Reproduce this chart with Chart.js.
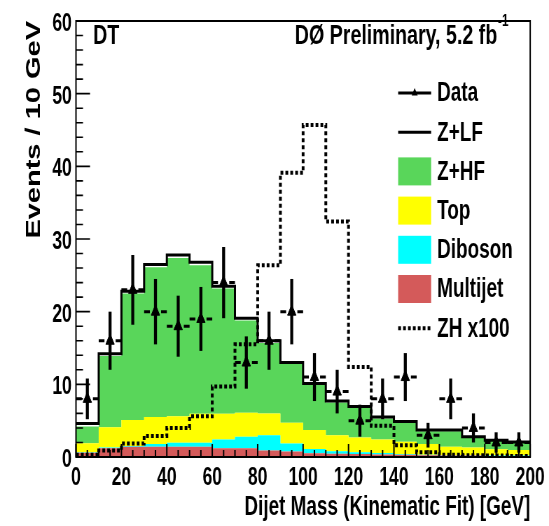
<!DOCTYPE html>
<html>
<head>
<meta charset="utf-8">
<script src="https://cdn.jsdelivr.net/npm/chart.js@4.4.1/dist/chart.umd.min.js"></script>
<style>
  html, body { margin: 0; padding: 0; overflow: hidden; background: #fff; }
  #frame { width: 549px; height: 526px; overflow: hidden; }
  /* the reference is squeezed sideways, so draw wider and compress */
  #wrap { position: relative; width: 784px; height: 526px; transform: scaleX(0.70026); transform-origin: 0 0; }
</style>
</head>
<body>
<div id="frame"><div id="wrap"><canvas id="c"></canvas></div></div>
<script>
// Bin lower edges, 10 GeV wide
const binLow = [0, 10, 20, 30, 40, 50, 60, 70, 80, 90, 100, 110, 120, 130, 140, 150, 160, 170, 180, 190];
const binWidth = 10;

// Background components (events per bin), bottom of the stack first
const multijet = [0.6, 1.2, 1.4, 1.4, 1.4, 1.4, 1.2, 1.2, 0.9, 0.75, 0.5, 0.45, 0.4, 0.35, 0.3, 0.25, 0.2, 0.2, 0.15, 0.15];
const diboson  = [0.05, 0.1, 0.1, 0.4, 0.55, 0.55, 1.2, 1.6, 2.1, 1.1, 0.6, 0.35, 0.25, 0.2, 0.1, 0.05, 0.05, 0.05, 0.05, 0.05];
const topPair  = [1.25, 2.8, 3.6, 3.7, 3.65, 4.0, 3.55, 3.3, 3.0, 2.85, 2.6, 2.2, 2.05, 1.85, 1.7, 1.5, 1.15, 1.05, 0.85, 0.75];
const zhf      = [2.3, 9.8, 17.4, 20.6, 21.8, 20.45, 17.25, 12.7, 9.7, 8.1, 6.2, 4.5, 4.05, 2.9, 2.6, 1.75, 2.15, 1.4, 1.15, 1.0];
const zlf      = [0.4, 0.3, 0.3, 0.4, 0.4, 0.4, 0.3, 0.3, 0.3, 0.2, 0.2, 0.2, 0.2, 0.2, 0.2, 0.15, 0.15, 0.1, 0.1, 0.1];

// Signal x100
const zh100 = [0.3, 0.9, 1.85, 2.9, 4.0, 5.6, 9.7, 15.5, 26.4, 39.1, 45.7, 32.4, 12.4, 4.3, 1.6, 0.65, 0.3, 0.25, 0.2, 0.15];

// Data and its errors
const dataCounts = [8, 16, 23, 20, 18, 19, 24, 13, 16, 20, 11, 9, 5, 8, 11, 3, 8, 4, 2, 2];
const dataErr    = [2.8, 4.0, 4.8, 4.5, 4.2, 4.4, 4.9, 3.6, 4.0, 4.5, 3.3, 3.0, 2.2, 2.8, 3.3, 1.7, 2.8, 2.0, 1.4, 1.4];

const legendLabels = ['Data', 'Z+LF', 'Z+HF', 'Top', 'Diboson', 'Multijet', 'ZH x100'];

const colors = {
  multijet: '#d45a5a',
  diboson: '#00ffff',
  top: '#ffff00',
  zhf: '#59d65a',
  zlf: '#ffffff'
};

const fontFamily = "'Liberation Sans', Arial, Helvetica, sans-serif";

// histogram edges for a stepped line
function steps(vals) {
  const pts = binLow.map((x, i) => ({ x: x, y: vals[i] }));
  pts.push({ x: binLow[binLow.length - 1] + binWidth, y: vals[vals.length - 1] });
  return pts;
}

function histSet(label, vals, color, order) {
  return {
    label: label,
    data: steps(vals),
    stepped: 'before',
    fill: order === 1 ? 'origin' : '-1',
    backgroundColor: color,
    borderColor: 'rgba(0,0,0,0)',
    borderWidth: 1,
    pointRadius: 0,
    stack: 'bkg',
    order: order
  };
}

const zlfSet = histSet('Z+LF', zlf, colors.zlf, 5);
zlfSet.borderColor = '#000';
zlfSet.borderWidth = 3;

const decor = {
  id: 'decor',
  afterDatasetsDraw(chart) {
    const { ctx, scales: { x, y } } = chart;
    ctx.save();
    ctx.strokeStyle = '#000';
    ctx.lineCap = 'butt';
    binLow.forEach((lo, i) => {
      const cx = x.getPixelForValue(lo + binWidth / 2);
      const cy = y.getPixelForValue(dataCounts[i]);
      ctx.lineWidth = 4.3;
      ctx.beginPath();
      ctx.moveTo(cx, y.getPixelForValue(dataCounts[i] + dataErr[i]));
      ctx.lineTo(cx, y.getPixelForValue(Math.max(0, dataCounts[i] - dataErr[i])));
      ctx.stroke();
      ctx.lineWidth = 3;
      const gap = 8;
      ctx.beginPath();
      ctx.moveTo(x.getPixelForValue(lo), cy);
      ctx.lineTo(cx - gap, cy);
      ctx.moveTo(cx + gap, cy);
      ctx.lineTo(x.getPixelForValue(lo + binWidth), cy);
      ctx.stroke();
    });
    ctx.restore();
  },
  afterDraw(chart) {
    const { ctx, chartArea: a, scales: { x, y } } = chart;
    ctx.save();
    ctx.strokeStyle = '#000';
    // inner tick marks
    ctx.lineWidth = 1.6;
    ctx.beginPath();
    for (let v = 0; v <= 60; v += 2) {
      const py = y.getPixelForValue(v);
      ctx.moveTo(a.left, py);
      ctx.lineTo(a.left + (v % 10 === 0 ? 20 : 10), py);
    }
    ctx.stroke();
    ctx.lineWidth = 2;
    ctx.beginPath();
    for (let v = 0; v <= 200; v += 5) {
      const px = x.getPixelForValue(v);
      ctx.moveTo(px, a.bottom);
      ctx.lineTo(px, a.bottom - (v % 20 === 0 ? 13 : 7));
    }
    ctx.stroke();
    // frame
    ctx.lineWidth = 2;
    ctx.strokeRect(a.left, a.top, a.right - a.left, a.bottom - a.top);

    // legend
    const x0 = 568.6, x1 = 615.7, tx = 624.3;
    ctx.font = 'bold 27px ' + fontFamily;
    ctx.textAlign = 'left';
    ctx.textBaseline = 'middle';
    ctx.fillStyle = '#000';
    const fills = [null, null, colors.zhf, colors.top, colors.diboson, colors.multijet, null];
    legendLabels.forEach((lab, i) => {
      const cy = 93 + i * 39.2;
      if (fills[i]) {
        ctx.fillStyle = fills[i];
        ctx.fillRect(x0, cy - 14, x1 - x0, 28);
      } else {
        ctx.lineWidth = i === 6 ? 4 : 3;
        ctx.setLineDash(i === 6 ? [4, 3] : []);
        ctx.beginPath();
        ctx.moveTo(x0, cy);
        ctx.lineTo(x1, cy);
        ctx.stroke();
        ctx.setLineDash([]);
        if (i === 0) {
          const mx = (x0 + x1) / 2, r = 5;
          ctx.fillStyle = '#000';
          ctx.beginPath();
          ctx.moveTo(mx, cy - r);
          ctx.lineTo(mx + r * 0.866, cy + r / 2);
          ctx.lineTo(mx - r * 0.866, cy + r / 2);
          ctx.closePath();
          ctx.fill();
        }
      }
      ctx.fillStyle = '#000';
      ctx.fillText(lab, tx, cy + 1);
    });

    // labels in the frame
    ctx.font = 'bold 28px ' + fontFamily;
    ctx.textAlign = 'left';
    ctx.fillText('DT', 133, 36);
    ctx.textAlign = 'right';
    ctx.fillText('D\u00d8 Preliminary, 5.2 fb', 710, 36);
    ctx.textAlign = 'left';
    ctx.font = 'bold 17px ' + fontFamily;
    ctx.fillText('-1', 711, 21);
    ctx.restore();
  }
};

new Chart(document.getElementById('c'), {
  type: 'line',
  data: {
    datasets: [
      histSet('Multijet', multijet, colors.multijet, 1),
      histSet('Diboson', diboson, colors.diboson, 2),
      histSet('Top', topPair, colors.top, 3),
      histSet('Z+HF', zhf, colors.zhf, 4),
      zlfSet,
      {
        label: 'ZH x100',
        data: steps(zh100),
        stepped: 'before',
        fill: false,
        borderColor: '#000',
        borderWidth: 4,
        borderDash: [4, 3],
        pointRadius: 0,
        stack: 'zh',
        order: 0
      },
      {
        label: 'Data',
        data: binLow.map((lo, i) => ({ x: lo + binWidth / 2, y: dataCounts[i] })),
        showLine: false,
        pointStyle: 'triangle',
        pointRadius: 7,
        pointBackgroundColor: '#000',
        pointBorderColor: '#000',
        pointBorderWidth: 1,
        stack: 'data',
        order: -1
      }
    ]
  },
  options: {
    responsive: true,
    maintainAspectRatio: false,
    animation: false,
    events: [],
    layout: { padding: { left: 0, right: 24.3, top: 17, bottom: 0 } },
    plugins: {
      legend: { display: false },
      tooltip: { enabled: false },
      filler: { drawTime: 'beforeDatasetsDraw' }
    },
    scales: {
      x: {
        type: 'linear',
        min: 0,
        max: 200,
        grid: { display: false, drawTicks: false },
        border: { display: false },
        ticks: {
          stepSize: 20,
          padding: 6,
          color: '#000',
          font: { family: fontFamily, size: 25, weight: 'bold' }
        },
        title: {
          display: true,
          text: 'Dijet Mass (Kinematic Fit) [GeV]',
          align: 'end',
          color: '#000',
          padding: { top: 0, bottom: 4.5 },
          font: { family: fontFamily, size: 27, weight: 'bold', lineHeight: 1 }
        },
        afterFit(scale) { scale.height = 69; }
      },
      y: {
        stacked: true,
        min: 0,
        max: 60,
        grid: { display: false, drawTicks: false },
        border: { display: false },
        ticks: {
          stepSize: 10,
          padding: 6,
          labelOffset: 3,
          color: '#000',
          font: { family: fontFamily, size: 25, weight: 'bold' }
        },
        title: {
          display: true,
          text: 'Events / 10 GeV',
          align: 'end',
          color: '#000',
          padding: { top: 34, bottom: 0 },
          font: { family: fontFamily, size: 29, weight: 'bold', lineHeight: 1 }
        },
        afterFit(scale) { scale.width = 108.5; }
      }
    }
  },
  plugins: [decor]
});
</script>
</body>
</html>
